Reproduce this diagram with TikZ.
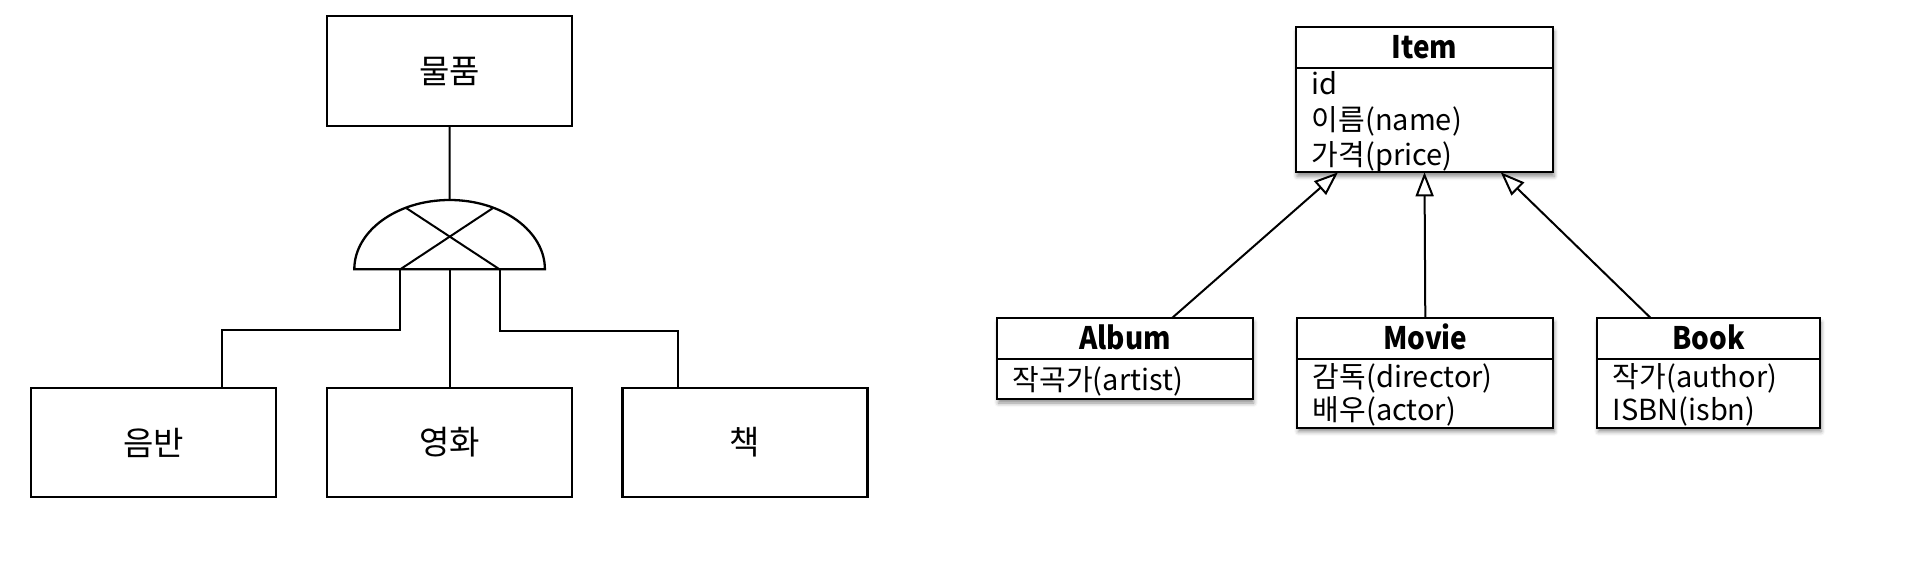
\documentclass[tikz,border=0pt]{standalone}
\usepackage{fontspec}
\setmainfont{Noto Sans CJK KR}
\newfontfamily\umlfont{Noto Sans CJK KR}
\newfontfamily\umltitlefont[FakeStretch=0.9]{Noto Sans CJK KR}
\usetikzlibrary{arrows.meta,shadows.blur,calc}
\begin{document}
\begin{tikzpicture}[x=1pt,y=-1pt,
  ebox/.style={draw, line width=2.3pt, outer sep=0pt, inner sep=0pt,
    minimum width=245pt, minimum height=109pt,
    font=\fontsize{33}{40}\selectfont},
  conn/.style={line width=2pt},
  gate/.style={line width=2.3pt},
  umlbox/.style={draw, line width=2.3pt, fill=white, outer sep=0pt, inner sep=0pt,
    anchor=north west,
    blur shadow={shadow xshift=1pt, shadow yshift=-4pt, shadow blur radius=4pt, shadow opacity=45}},
  umlsep/.style={line width=2.3pt},
  umltitle/.style={anchor=base, inner sep=0pt, font=\umltitlefont\bfseries\fontsize{31}{36}\selectfont},
  umlattr/.style={anchor=base west, inner sep=0pt, font=\umlfont\fontsize{29}{34}\selectfont},
  gen/.style={line width=2pt, -{Triangle[open, length=24pt, width=18pt, fill=white]}}
]
\useasboundingbox (0,0) rectangle (1932,580);

% ---------- left diagram ----------
\node[ebox, minimum height=110pt] (prod) at (449.5,71) {물품};
\node[ebox] (album) at (153.5,442.5) {음반};
\node[ebox] (movie) at (449.5,442.5) {영화};
\node[ebox] (book) at (745,442.5) {책};

\coordinate (gtop) at (449.6,200);
\coordinate (gbl) at (354.3,269.3);
\draw[gate] (gbl) arc[start angle=180, end angle=360, x radius=95.3, y radius=69.3] -- cycle;
\coordinate (gxa) at (406.6,208.3);
\coordinate (gxb) at (492.6,208.3);
\coordinate (gl) at (400.3,269.3);
\coordinate (gm) at (449.6,269.3);
\coordinate (gr) at (499.5,269.3);
\draw[conn] (gxa) -- (gr);
\draw[conn] (gxb) -- (gl);

\coordinate (elbL) at (221.7,330);
\coordinate (elbR) at (678.3,331);
\draw[conn] (prod.south) -- (gtop);
\draw[conn] (gl) |- (elbL) -- (elbL |- album.north);
\draw[conn] (gm) -- (gm |- movie.north);
\draw[conn] (gr) |- (elbR) -- (elbR |- book.north);

% ---------- right diagram ----------
\node[umlbox, minimum width=257pt, minimum height=145pt] (item) at (1296,27.3) {};
\draw[umlsep] (1296,67.7) -- (1553,67.7);
\node[umltitle] (itemT) at (1424.5,58.3) {Item};
\node[umlattr] (itemA1) at (1311.7,95) {id};
\node[umlattr] (itemA2) at (1311.7,130.5) {이름(name)};
\node[umlattr] (itemA3) at (1311.7,165.5) {가격(price)};

\node[umlbox, minimum width=255.4pt, minimum height=80.7pt] (alb) at (997.3,318.3) {};
\draw[umlsep] (997.3,359) -- (1252.7,359);
\node[umltitle] (albT) at (1125,349) {Album};
\node[umlattr] (albA1) at (1012.7,390.7) {작곡가(artist)};

\node[umlbox, minimum width=256pt, minimum height=109.4pt] (mov) at (1297.3,318.3) {};
\draw[umlsep] (1297.3,359) -- (1553.3,359);
\node[umltitle] (movT) at (1425.3,349) {Movie};
\node[umlattr] (movA1) at (1312.7,387.3) {감독(director)};
\node[umlattr] (movA2) at (1312.7,420.7) {배우(actor)};

\node[umlbox, minimum width=222.7pt, minimum height=109.4pt] (bk) at (1597.3,318.3) {};
\draw[umlsep] (1597.3,359) -- (1820,359);
\node[umltitle] (bkT) at (1708.7,349) {Book};
\node[umlattr] (bkA1) at (1612.7,387.3) {작가(author)};
\node[umlattr] (bkA2) at (1612.7,420.7) {ISBN(isbn)};

\draw[gen] ($(alb.north west)+(174.4,0)$) -- ($(item.south west)+(42,0)$);
\draw[gen] (mov.north) -- (item.south);
\draw[gen] ($(bk.north west)+(53.7,0)$) -- ($(item.south west)+(204.7,0)$);
\end{tikzpicture}
\end{document}
